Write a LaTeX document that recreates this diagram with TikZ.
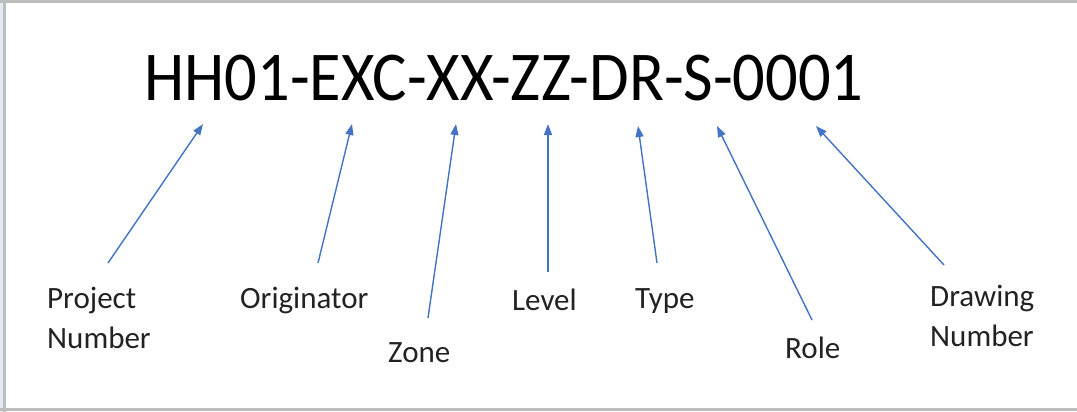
\documentclass[tikz,border=0pt]{standalone}
\usepackage{fontspec}
\setmainfont{Carlito}
\usetikzlibrary{arrows.meta}
\definecolor{arrowblue}{HTML}{4472C4}
\definecolor{txt}{HTML}{222222}
\definecolor{framegray}{HTML}{BDBDBD}
\definecolor{frameblue}{HTML}{E3EAF4}
\tikzset{
  lbl/.style={anchor=base west, inner sep=0pt, text=txt, font=\fontsize{31}{40}\selectfont, align=left},
  pointer/.style={draw=arrowblue, line width=1.4pt, -{Triangle[length=11pt,width=8pt]}},
}
\begin{document}
\begin{tikzpicture}[x=1pt,y=-1pt]
\useasboundingbox (0,0) rectangle (1077,412);
\fill[white] (0,0) rectangle (1077,412);
\fill[frameblue] (0,0) rectangle (3,412);
\fill[framegray] (3,0) rectangle (6,412);
\fill[framegray] (0,0) rectangle (1077,3);
\fill[framegray] (0,408) rectangle (1077,411);

\node[anchor=base, inner sep=0pt, text=black, font=\fontsize{70}{80}\selectfont] (code) at (504,101) {\scalebox{0.92}[1]{HH01-EXC-XX-ZZ-DR-S-0001}};

\node[lbl] (proj) at (47,348) {Project\\Number};
\node[lbl] (orig) at (240,308) {Originator};
\node[lbl] (zone) at (388,362) {Zone};
\node[lbl] (level) at (512,310) {Level};
\node[lbl] (type) at (635,308) {Type};
\node[lbl] (role) at (785,358) {Role};
\node[lbl] (draw) at (930,346) {Drawing\\Number};

\coordinate (t1) at (203,124); \coordinate (s1) at (108,263);
\coordinate (t2) at (352,124); \coordinate (s2) at (318,263);
\coordinate (t3) at (456,124); \coordinate (s3) at (428,318);
\coordinate (t4) at (548,124); \coordinate (s4) at (548,272);
\coordinate (t5) at (638,126); \coordinate (s5) at (657,263);
\coordinate (t6) at (717,126); \coordinate (s6) at (812,320);
\coordinate (t7) at (816,126); \coordinate (s7) at (944,265);

\draw[pointer] (s1) -- (t1);
\draw[pointer] (s2) -- (t2);
\draw[pointer] (s3) -- (t3);
\draw[pointer] (s4) -- (t4);
\draw[pointer] (s5) -- (t5);
\draw[pointer] (s6) -- (t6);
\draw[pointer] (s7) -- (t7);
\end{tikzpicture}
\end{document}
